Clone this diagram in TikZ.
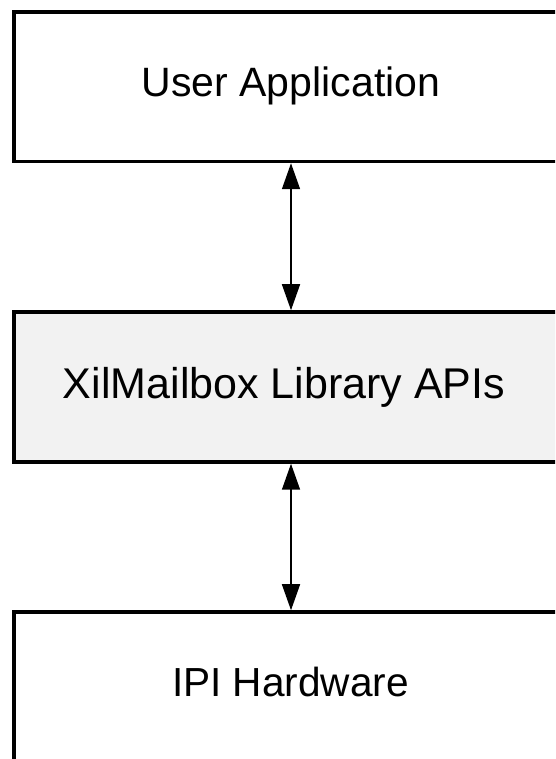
\documentclass[tikz,border=0pt]{standalone}
\usepackage{fontspec}
\setmainfont{Liberation Sans}
\usetikzlibrary{arrows.meta}
\definecolor{boxgray}{HTML}{F2F2F2}
\tikzset{
  layerbox/.style={draw=black, line width=3.5pt, rectangle, inner sep=0pt, minimum width=586pt},
  layertext/.style={anchor=base, inner sep=0pt, font=\fontsize{40.6}{48}\selectfont},
  biarrow/.style={line width=1.5pt, {Triangle[length=26pt,width=18pt]}-{Triangle[length=26pt,width=18pt]}}
}
\begin{document}
\begin{tikzpicture}[x=1pt,y=1pt]
\useasboundingbox (0,0) rectangle (555,759);
\clip (0,0) rectangle (555,759);
\fill[white] (0,0) rectangle (555,759);
\node[layerbox, minimum height=149.5pt] (user) at (307,672.25) {};
\node[layerbox, fill=boxgray, minimum height=150pt] (lib) at (307,372) {};
\node[layerbox, minimum height=197pt] (hw) at (307,48.5) {};
\node[layertext, font=\fontsize{41}{48}\selectfont] (usertxt) at (291,662) {User Application};
\node[layertext, font=\fontsize{43}{50}\selectfont] (libtxt) at (284,360) {XilMailbox Library APIs};
\node[layertext] (hwtxt) at (290.5,62) {IPI Hardware};
\coordinate (ax) at (291,0);
\draw[biarrow] (user.south -| ax) -- (lib.north -| ax);
\draw[biarrow] (lib.south -| ax) -- (hw.north -| ax);
\end{tikzpicture}
\end{document}
